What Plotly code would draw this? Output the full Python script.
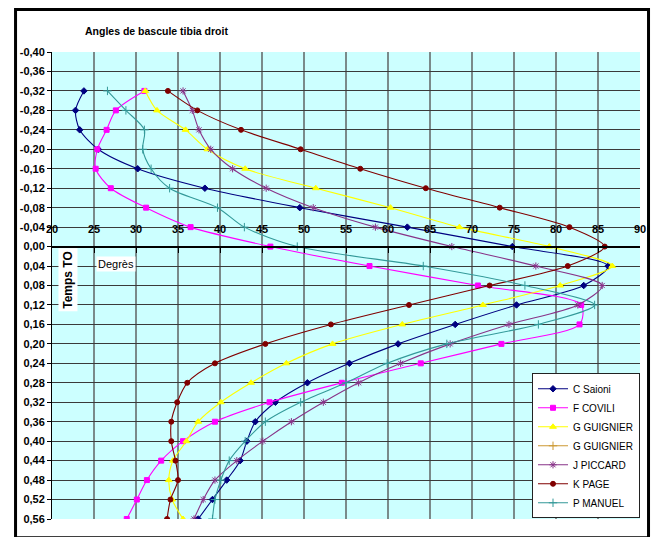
import plotly.graph_objects as go

# Time levels (Temps TO) shared by every series
temps = [-0.32, -0.28, -0.24, -0.20, -0.16, -0.12, -0.08, -0.04, 0.00, 0.04, 0.08, 0.12,
         0.16, 0.20, 0.24, 0.28, 0.32, 0.36, 0.40, 0.44, 0.48, 0.52, 0.56]

# Tibia tilt angle (degrees) per subject
c_saioni = [23.8, 22.8, 23.3, 25.5, 30.2, 38.2, 49.5, 62.3, 74.8, 86.2, 83.3, 75.3,
            68.0, 61.2, 55.4, 50.4, 46.6, 44.2, 43.2, 42.4, 40.8, 39.1, 37.4]
f_covili = [31.0, 27.6, 26.5, 25.4, 25.2, 27.0, 31.2, 36.5, 46.0, 57.8, 70.7, 83.0,
            82.8, 73.5, 63.9, 54.5, 45.9, 39.4, 35.6, 33.0, 31.3, 30.1, 28.9]
g_guignier = [31.1, 32.5, 35.9, 38.5, 43.0, 51.4, 60.3, 68.5, 79.2, 86.7, 80.5, 71.3,
              61.7, 53.4, 47.9, 43.7, 40.1, 37.4, 36.0, 34.4, 33.9, 34.3, 35.6]
g_guignier_2 = []
j_piccard = [35.6, 36.7, 37.5, 38.9, 41.5, 45.5, 51.1, 58.5, 67.6, 77.6, 85.5, 82.6,
             74.4, 67.4, 61.5, 56.5, 52.3, 48.5, 45.1, 42.0, 39.4, 38.0, 36.9]
k_page = [33.8, 37.3, 42.5, 49.6, 56.7, 64.5, 73.3, 81.6, 85.8, 81.4, 72.1, 62.5,
          53.2, 45.4, 39.4, 36.1, 34.9, 34.2, 34.2, 34.7, 35.0, 34.1, 33.7]
p_manuel = [26.6, 28.8, 31.0, 30.8, 31.8, 34.0, 39.7, 42.9, 49.2, 64.2, 76.3, 84.6,
            77.9, 67.0, 59.9, 55.0, 49.6, 45.4, 43.0, 41.1, 40.1, 39.4, 39.1]

names = ["C Saioni", "F COVILI", "G GUIGNIER", "G GUIGNIER", "J PICCARD", "K PAGE", "P MANUEL"]
series = [c_saioni, f_covili, g_guignier, g_guignier_2, j_piccard, k_page, p_manuel]
colors = ["#000080", "#FF00FF", "#FFFF00", "#CC9933", "#883388", "#800000", "#339999"]
symbols = ["diamond", "square", "triangle-up", "cross-thin-open", "asterisk-open",
           "circle", "cross-thin-open"]
msizes = [5, 5, 6, 6, 6, 5, 6]

x_ticks = [20, 25, 30, 35, 40, 45, 50, 55, 60, 65, 70, 75, 80, 85, 90]
y_ticks = [-0.40, -0.36, -0.32, -0.28, -0.24, -0.20, -0.16, -0.12, -0.08, -0.04, 0.00,
           0.04, 0.08, 0.12, 0.16, 0.20, 0.24, 0.28, 0.32, 0.36, 0.40, 0.44, 0.48, 0.52, 0.56]
y_labels = [f"{v:.2f}".replace(".", ",") for v in y_ticks]

y_min, y_max = -0.40, 0.56
font_family = "Liberation Sans, Arial, sans-serif"

fig = go.Figure()
for name, vals, col, sym, ms in zip(names, series, colors, symbols, msizes):
    xs = vals if vals else [None]
    ys = temps[:len(vals)] if vals else [None]
    fig.add_trace(go.Scatter(
        x=xs, y=ys, name=name, mode="lines+markers",
        line=dict(color=col, width=1.1, shape="spline", smoothing=0.8),
        marker=dict(color=col, symbol=sym, size=ms, line=dict(color=col, width=1)),
    ))

# x axis crosses the time axis at 0
x_axis_pos = (y_max - 0.0) / (y_max - y_min)

fig.update_layout(
    width=658, height=537,
    margin=dict(l=52, r=12, t=52, b=13),
    paper_bgcolor="white",
    plot_bgcolor="#CCFFFF",
    showlegend=True,
    legend=dict(
        x=1.0, y=0.312, xanchor="right", yanchor="top",
        bgcolor="white", bordercolor="#222222", borderwidth=1,
        font=dict(family=font_family, size=10, color="black"),
        tracegroupgap=0, itemwidth=30,
    ),
    xaxis=dict(
        range=[20, 90], tickvals=x_ticks, ticktext=[str(v) for v in x_ticks],
        anchor="free", position=x_axis_pos, side="top",
        showline=True, linecolor="black", linewidth=2,
        ticks="inside", ticklen=5, tickcolor="black",
        showgrid=True, gridcolor="#7A8A8A", gridwidth=1.5,
        zeroline=False, ticklabelstandoff=8,
        tickfont=dict(family=font_family, size=11, color="black", weight="bold"),
    ),
    yaxis=dict(
        range=[y_max, y_min], tickvals=y_ticks, ticktext=y_labels,
        showline=True, linecolor="black", linewidth=1, mirror=False,
        ticks="outside", ticklen=4, tickcolor="black",
        showgrid=True, gridcolor="#3A3A3A", gridwidth=1.2,
        zeroline=False,
        tickfont=dict(family=font_family, size=11, color="black", weight="bold"),
    ),
    annotations=[
        dict(text="Angles de bascule tibia droit", xref="paper", yref="paper",
             x=0.177, y=1.044, xanchor="center", yanchor="middle", showarrow=False,
             font=dict(family=font_family, size=10.5, color="black", weight="bold")),
        dict(text="Degrès", xref="paper", yref="paper", x=0.108, y=0.545,
             xanchor="center", yanchor="middle",
             showarrow=False, bgcolor="white", borderpad=1,
             font=dict(family=font_family, size=11, color="black")),
        dict(text="Temps TO", xref="paper", yref="paper", x=0.027, y=0.512,
             xanchor="center", yanchor="middle",
             showarrow=False, textangle=-90, bgcolor="white", borderpad=2,
             font=dict(family=font_family, size=12, color="black", weight="bold")),
    ],
    shapes=[
        dict(type="rect", xref="paper", yref="paper",
             x0=-0.062, x1=1.0145, y0=-0.04, y1=1.091,
             line=dict(color="black", width=3), fillcolor="rgba(0,0,0,0)", layer="above"),
    ],
)

fig.write_html("out.html")
